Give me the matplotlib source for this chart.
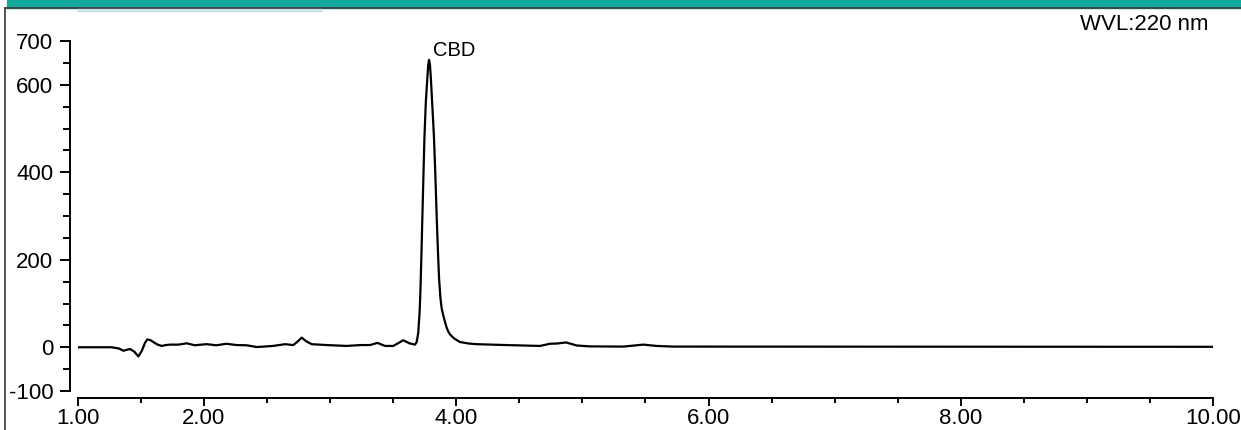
import matplotlib
matplotlib.use("Agg")
import matplotlib.pyplot as plt
from matplotlib.patches import Rectangle
from matplotlib.lines import Line2D
from matplotlib.ticker import FixedLocator, MultipleLocator

plt.rcParams['font.family'] = ['Liberation Sans', 'DejaVu Sans']

# retention time (min) and signal (mAU)
time = [1.00, 1.27, 1.33, 1.363, 1.39, 1.416, 1.45, 1.482, 1.51, 1.535,
        1.553, 1.58, 1.60, 1.635, 1.667, 1.70, 1.733, 1.80, 1.865, 1.931,
        1.98, 2.024, 2.10, 2.18, 2.26, 2.34, 2.42, 2.45, 2.55, 2.644,
        2.71, 2.74, 2.777, 2.81, 2.856, 2.975, 3.133, 3.24, 3.318, 3.376,
        3.437, 3.502, 3.545, 3.582, 3.63, 3.674, 3.688, 3.70, 3.705, 3.711,
        3.716, 3.72, 3.726, 3.732, 3.74, 3.749, 3.76, 3.772, 3.779, 3.786,
        3.793, 3.80, 3.812, 3.825, 3.836, 3.846, 3.856, 3.865, 3.876, 3.886,
        3.899, 3.912, 3.925, 3.938, 3.95, 3.97, 3.99, 4.03, 4.07, 4.10,
        4.163, 4.40, 4.665, 4.744, 4.80, 4.871, 4.956, 5.06, 5.325, 5.483,
        5.59, 5.72, 10.00]
signal = [0, 0, -3, -8, -6, -4, -10, -21, -8, 10,
          18, 16, 12, 6, 3, 5, 6, 6, 9, 4.5,
          6, 7, 4.5, 8, 5, 4.5, 0.5, 1, 3, 7,
          5, 12, 22, 14, 7, 5, 3, 5, 5, 10,
          3, 3, 10, 16, 9, 6, 12, 33, 55, 81,
          118, 157, 220, 290, 380, 478, 560, 615, 645, 657,
          645, 615, 550, 478, 390, 300, 220, 157, 112, 88,
          72, 58, 45, 36, 30, 24, 19, 12, 10, 8.5,
          7, 5, 3, 8, 8.5, 11, 4, 2, 1.5, 6,
          3, 1.5, 1]

peak_name = "CBD"
peak_time = 3.786
peak_height = 657
wavelength_label = "WVL:220 nm"

y_labels = [-100, 0, 200, 400, 600, 700]
x_labels = [1, 2, 4, 6, 8, 10]

fig = plt.figure(figsize=(12.41, 4.30), dpi=100)
ax = fig.add_axes([77.5 / 1241, 39 / 430, 1135.8 / 1241, 350 / 430])

ax.plot(time, signal, color='black', lw=1.6, solid_joinstyle='round')
ax.annotate(peak_name, xy=(peak_time, peak_height), xytext=(2.7, 2.4),
            textcoords='offset points', ha='left', va='baseline', fontsize=14.5)

ax.set_xlim(1, 10)
ax.set_ylim(-100, 700)

for s in ['top', 'right']:
    ax.spines[s].set_visible(False)
ax.spines['left'].set_position(('outward', 5.4))
ax.spines['bottom'].set_position(('outward', 5.0))
for s in ['left', 'bottom']:
    ax.spines[s].set_linewidth(1.4)

ax.yaxis.set_major_locator(FixedLocator(y_labels))
ax.yaxis.set_minor_locator(MultipleLocator(50))
ax.xaxis.set_major_locator(FixedLocator(x_labels))
ax.xaxis.set_minor_locator(MultipleLocator(0.5))
ax.set_xticklabels(["%.2f" % v for v in x_labels])
ax.set_yticklabels([str(v) for v in y_labels])

ax.tick_params(axis='y', which='major', length=7, width=1.4, pad=5, labelsize=16)
ax.tick_params(axis='y', which='minor', length=4.8, width=1.4)
ax.tick_params(axis='x', which='major', length=5.8, width=1.4, pad=1.5, labelsize=16)
ax.tick_params(axis='x', which='minor', length=3.6, width=1.4)

fig.text(1208 / 1241, 1 - 30 / 430, wavelength_label, ha='right', va='baseline',
         fontsize=16)

# window chrome: teal header, frame line, tab strip
fig.patches.append(Rectangle((7 / 1241, 1 - 7.5 / 430), 1, 7.5 / 430,
                             transform=fig.transFigure, color='#12a89d', zorder=0))
fig.patches.append(Rectangle((77 / 1241, 1 - 10.5 / 430), 245 / 1241, 2.5 / 430,
                             transform=fig.transFigure, color='#cde3ea', zorder=0))
fig.lines.append(Line2D([5 / 1241, 1], [1 - 8 / 430, 1 - 8 / 430],
                        transform=fig.transFigure, color='#3a3a3a', lw=1.2))
fig.lines.append(Line2D([5 / 1241, 5 / 1241], [0, 1 - 8 / 430],
                        transform=fig.transFigure, color='#3a3a3a', lw=1.2))

fig.savefig('out.png', dpi=100)
